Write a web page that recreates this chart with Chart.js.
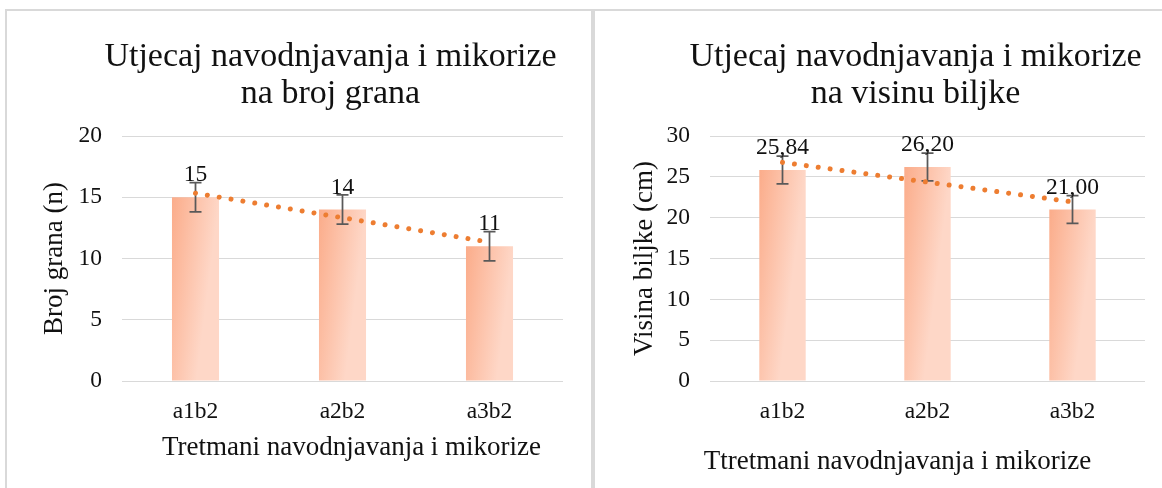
<!DOCTYPE html>
<html><head><meta charset="utf-8">
<script src="https://cdn.jsdelivr.net/npm/chart.js@4.4.0/dist/chart.umd.min.js"></script>
<style>
html,body{margin:0;padding:0;background:#fff;width:1162px;height:488px;overflow:hidden;position:relative}
#frameTop{position:absolute;left:5px;top:9px;width:1157px;height:2px;background:#d9d9d9}
#frameLeft{position:absolute;left:5px;top:9px;width:2px;height:479px;background:#d9d9d9}
#divider{position:absolute;left:591px;top:9px;width:4px;height:479px;background:#d9d9d9}
.box{position:absolute;top:11px;height:477px}
#b1{left:7px;width:584px}
#b2{left:595px;width:567px}
</style></head><body>
<div id="frameTop"></div><div id="frameLeft"></div><div id="divider"></div>
<div class="box" id="b1"><canvas id="c1"></canvas></div>
<div class="box" id="b2"><canvas id="c2"></canvas></div>
<script>
const categories = ['a1b2', 'a2b2', 'a3b2'];
const branchValues = [15, 14, 11];
const branchErrors = [1.2, 1.2, 1.2];
const branchTrend = [15.33, 13.33, 11.33];
const branchLabels = ['15', '14', '11'];
const heightValues = [25.84, 26.20, 21.00];
const heightErrors = [1.7, 1.7, 1.7];
const heightTrend = [26.77, 24.35, 21.93];
const heightLabels = ['25,84', '26,20', '21,00'];
const branchTicks = [0, 5, 10, 15, 20];
const heightTicks = [0, 5, 10, 15, 20, 25, 30];

const SERIF = '"Liberation Serif", "Times New Roman", serif';
const BAR_PCT = 0.32;

function barFill(c) {
  const chart = c.chart;
  const xs = chart.scales.x, ys = chart.scales.y;
  if (!xs || !ys || !chart.chartArea || c.dataIndex === undefined) return '#fbb597';
  const w = (xs.right - xs.left) / categories.length * BAR_PCT;
  const cx = xs.getPixelForValue(c.dataIndex);
  const top = ys.getPixelForValue(c.raw);
  if (!isFinite(cx) || !isFinite(top)) return '#fbb597';
  const g = chart.ctx.createLinearGradient(cx - w / 2, top, cx + w / 2, top + 6);
  g.addColorStop(0, '#fbac8a');
  g.addColorStop(1, '#fed7c7');
  return g;
}

const titlePlugin = {
  id: 'ttl',
  afterDraw(chart, args, o) {
    const {ctx, chartArea} = chart;
    const mid = (chartArea.left + chartArea.right) / 2;
    ctx.save();
    ctx.fillStyle = '#111';
    ctx.textAlign = 'center';
    ctx.font = '34px ' + SERIF;
    ctx.textBaseline = 'alphabetic';
    o.lines.forEach((t, i) => ctx.fillText(t, mid + o.dx, o.y0 + i * o.lh));
    ctx.font = '27px ' + SERIF;
    ctx.textBaseline = 'middle';
    ctx.fillText(o.xTitle, mid + o.xdx, o.xy);
    ctx.restore();
  }
};

const errPlugin = {
  id: 'errb',
  afterDatasetDraw(chart, args, o) {
    if (args.index !== 0) return;
    const ctx = chart.ctx, ys = chart.scales.y;
    const meta = chart.getDatasetMeta(0);
    ctx.save();
    ctx.strokeStyle = '#595959';
    ctx.lineWidth = 1.75;
    meta.data.forEach((bar, i) => {
      const v = chart.data.datasets[0].data[i];
      const e = o.errors[i];
      const y1 = ys.getPixelForValue(v + e), y2 = ys.getPixelForValue(v - e);
      const x = bar.x;
      ctx.beginPath();
      ctx.moveTo(x, y1); ctx.lineTo(x, y2);
      ctx.moveTo(x - 6, y1); ctx.lineTo(x + 6, y1);
      ctx.moveTo(x - 6, y2); ctx.lineTo(x + 6, y2);
      ctx.stroke();
    });
    ctx.restore();
  }
};

const labelPlugin = {
  id: 'dlab',
  afterDatasetsDraw(chart, args, o) {
    const ctx = chart.ctx;
    const meta = chart.getDatasetMeta(0);
    ctx.save();
    ctx.font = '23.5px ' + SERIF;
    ctx.fillStyle = '#111';
    ctx.textAlign = 'center';
    ctx.textBaseline = 'alphabetic';
    meta.data.forEach((bar, i) => {
      ctx.fillText(o.labels[i], bar.x, bar.y - 16);
    });
    ctx.restore();
  }
};

function makeChart(id, cfg) {
  return new Chart(document.getElementById(id), {
    type: 'bar',
    data: {
      labels: categories,
      datasets: [
        {data: cfg.values, backgroundColor: barFill, borderWidth: 0,
         barPercentage: BAR_PCT, categoryPercentage: 1, order: 1},
        {type: 'line', data: cfg.trend, borderColor: '#ed7d31', borderWidth: 5,
         borderDash: [0.01, 12], borderCapStyle: 'round', pointRadius: 0, fill: false, order: 0}
      ]
    },
    options: {
      responsive: true,
      maintainAspectRatio: false,
      animation: false,
      events: [],
      layout: {padding: {left: 0, right: cfg.padRight, top: 125, bottom: 0}},
      plugins: {
        legend: {display: false},
        tooltip: {enabled: false},
        ttl: {lines: cfg.title, dx: -12, y0: 55, lh: 37, xTitle: cfg.xTitle, xdx: cfg.xTitleDx, xy: cfg.xTitleY},
        errb: {errors: cfg.errors},
        dlab: {labels: cfg.labels}
      },
      scales: {
        x: {
          grid: {display: false, drawTicks: false},
          border: {display: false},
          ticks: {font: {family: SERIF, size: 23.5}, color: '#111', padding: 17},
          afterFit(s) { s.height = 107; }
        },
        y: {
          min: 0, max: cfg.ticks[cfg.ticks.length - 1],
          afterBuildTicks(s) { s.ticks = cfg.ticks.map(v => ({value: v})); },
          grid: {color: '#d9d9d9', lineWidth: 1, drawTicks: false},
          border: {display: false},
          ticks: {font: {family: SERIF, size: 23.5}, color: '#111', padding: 20},
          title: {display: true, text: cfg.yTitle, font: {family: SERIF, size: 27}, color: '#111',
                  padding: {top: cfg.yTitlePad, bottom: 0}},
          afterFit(s) { s.width = 115; }
        }
      }
    },
    plugins: [titlePlugin, errPlugin, labelPlugin]
  });
}

makeChart('c1', {
  values: branchValues, errors: branchErrors, trend: branchTrend, labels: branchLabels,
  ticks: branchTicks, padRight: 28,
  title: ['Utjecaj navodnjavanja i mikorize', 'na broj grana'],
  xTitle: 'Tretmani navodnjavanja i mikorize', xTitleDx: 9, xTitleY: 437,
  yTitle: 'Broj grana (n)', yTitlePad: 32
});
makeChart('c2', {
  values: heightValues, errors: heightErrors, trend: heightTrend, labels: heightLabels,
  ticks: heightTicks, padRight: 17,
  title: ['Utjecaj navodnjavanja i mikorize', 'na visinu biljke'],
  xTitle: 'Ttretmani navodnjavanja i mikorize', xTitleDx: -30, xTitleY: 451,
  yTitle: 'Visina biljke (cm)', yTitlePad: 34
});
</script>
</body></html>
